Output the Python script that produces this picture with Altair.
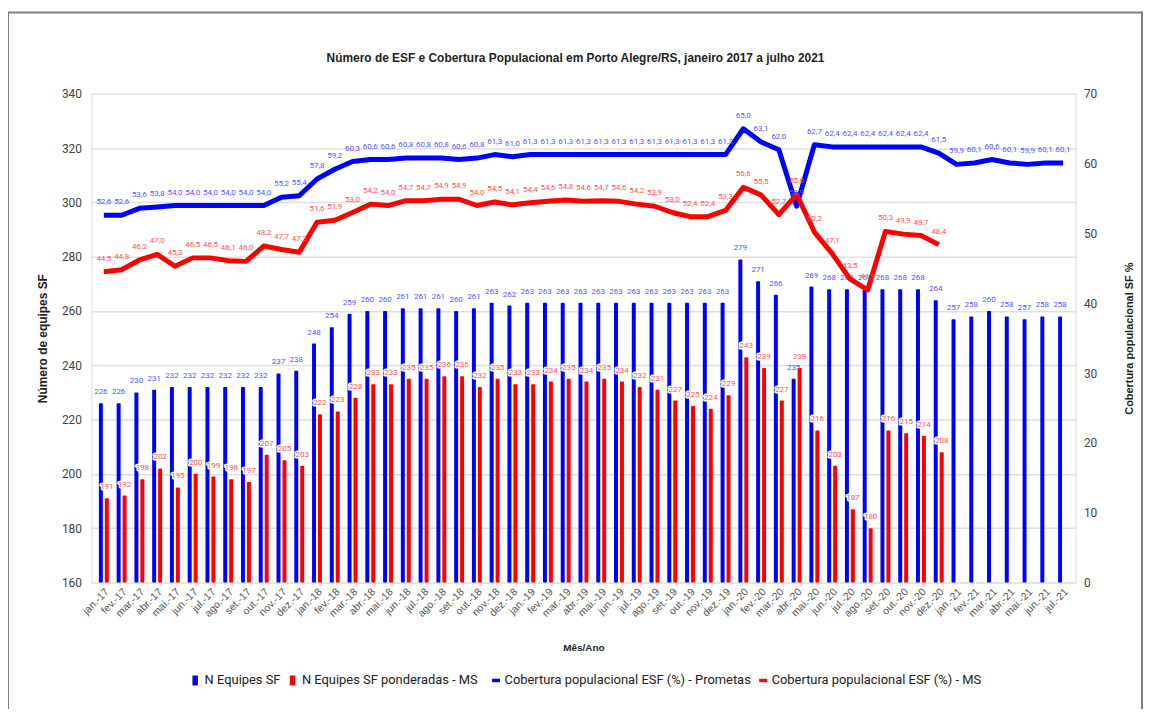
import altair as alt
import pandas as pd

meses = [
    "jan.-17", "fev.-17", "mar.-17", "abr.-17", "mai.-17", "jun.-17", "jul.-17", "ago.-17", "set.-17", "out.-17", "nov.-17", "dez.-17",
    "jan.-18", "fev.-18", "mar.-18", "abr.-18", "mai.-18", "jun.-18", "jul.-18", "ago.-18", "set.-18", "out.-18", "nov.-18", "dez.-18",
    "jan.-19", "fev.-19", "mar.-19", "abr.-19", "mai.-19", "jun.-19", "jul.-19", "ago.-19", "set.-19", "out.-19", "nov.-19", "dez.-19",
    "jan.-20", "fev.-20", "mar.-20", "abr.-20", "mai.-20", "jun.-20", "jul.-20", "ago.-20", "set.-20", "out.-20", "nov.-20", "dez.-20",
    "jan.-21", "fev.-21", "mar.-21", "abr.-21", "mai.-21", "jun.-21", "jul.-21",
]

equipes_sf = [
    226, 226, 230, 231, 232, 232, 232, 232, 232, 232, 237, 238,
    248, 254, 259, 260, 260, 261, 261, 261, 260, 261, 263, 262,
    263, 263, 263, 263, 263, 263, 263, 263, 263, 263, 263, 263,
    279, 271, 266, 235, 269, 268, 268, 268, 268, 268, 268, 264,
    257, 258, 260, 258, 257, 258, 258,
]

equipes_ponderadas = [
    191, 192, 198, 202, 195, 200, 199, 198, 197, 207, 205, 203,
    222, 223, 228, 233, 233, 235, 235, 236, 236, 232, 235, 233,
    233, 234, 235, 234, 235, 234, 232, 231, 227, 225, 224, 229,
    243, 239, 227, 239, 216, 203, 187, 180, 216, 215, 214, 208,
]

cobertura_prometas = [
    52.6, 52.6, 53.6, 53.8, 54.0, 54.0, 54.0, 54.0, 54.0, 54.0, 55.2, 55.4,
    57.8, 59.2, 60.3, 60.6, 60.6, 60.8, 60.8, 60.8, 60.6, 60.8, 61.3, 61.0,
    61.3, 61.3, 61.3, 61.3, 61.3, 61.3, 61.3, 61.3, 61.3, 61.3, 61.3, 61.3,
    65.0, 63.1, 62.0, 53.9, 62.7, 62.4, 62.4, 62.4, 62.4, 62.4, 62.4, 61.5,
    59.9, 60.1, 60.6, 60.1, 59.9, 60.1, 60.1,
]

cobertura_ms = [
    44.5, 44.8, 46.2, 47.0, 45.3, 46.5, 46.5, 46.1, 46.0, 48.2, 47.7, 47.3,
    51.6, 51.9, 53.0, 54.2, 54.0, 54.7, 54.7, 54.9, 54.9, 54.0, 54.5, 54.1,
    54.4, 54.6, 54.8, 54.6, 54.7, 54.6, 54.2, 53.9, 53.0, 52.4, 52.4, 53.3,
    56.6, 55.5, 52.7, 55.6, 50.2, 47.1, 43.5, 41.9, 50.3, 49.9, 49.7, 48.4,
]

S1 = "N Equipes SF"
S2 = "N Equipes SF ponderadas - MS"
S3 = "Cobertura populacional ESF (%) - Prometas"
S4 = "Cobertura populacional ESF (%) - MS"


def fmt1(v):
    return f"{v:.1f}".replace(".", ",")


bars1 = pd.DataFrame({"mes": meses, "serie": S1, "valor": equipes_sf,
                      "rotulo": [str(v) for v in equipes_sf]})
bars2 = pd.DataFrame({"mes": meses[:len(equipes_ponderadas)], "serie": S2,
                      "valor": equipes_ponderadas,
                      "rotulo": [str(v) for v in equipes_ponderadas]})
line1 = pd.DataFrame({"mes": meses, "serie": S3, "valor": cobertura_prometas,
                      "rotulo": [fmt1(v) for v in cobertura_prometas]})
line2 = pd.DataFrame({"mes": meses[:len(cobertura_ms)], "serie": S4,
                      "valor": cobertura_ms,
                      "rotulo": [fmt1(v) for v in cobertura_ms]})
lines = pd.concat([line1, line2], ignore_index=True)
frame_df = pd.DataFrame({"k": [0]})

W, H = 991, 492
LBL_FONT = "Roboto"
LBL_SIZE = 8

x_enc = alt.X(
    "mes:N", sort=meses, title="Mês/Ano",
    scale=alt.Scale(paddingInner=0.5, paddingOuter=0.45),
    axis=alt.Axis(labelAngle=315, labelFontSize=10.5, labelColor="#555555",
                  labelFont="Liberation Sans", labelPadding=4,
                  titleFontSize=10, titleFont="Liberation Sans", titleFontWeight="bold",
                  titleColor="#222222", titlePadding=24, domain=False, ticks=False,
                  grid=False),
)

y_left = alt.Y(
    "valor:Q",
    scale=alt.Scale(domain=[160, 340], zero=False, nice=False),
    axis=alt.Axis(values=list(range(160, 341, 20)), title="Número de equipes SF",
                  labelFontSize=12, labelColor="#444444", labelFont="Roboto",
                  labelPadding=10, titleFontSize=12, titleFont="Liberation Sans",
                  titleFontWeight="bold", titleColor="#222222", titlePadding=12,
                  domain=False, ticks=False, grid=True, gridColor="#e0e0e0",
                  gridWidth=1.5),
)

y_right = alt.Y(
    "valor:Q",
    scale=alt.Scale(domain=[0, 70], nice=False),
    axis=alt.Axis(orient="right", values=list(range(0, 71, 10)),
                  title="Cobertura populacional SF %", titleAngle=270,
                  labelFontSize=12, labelColor="#444444", labelFont="Roboto",
                  labelPadding=8, titleFontSize=11, titleFont="Liberation Sans",
                  titleFontWeight="bold", titleColor="#222222", titlePadding=38,
                  domain=False, ticks=False, grid=False),
)

fill_scale = alt.Scale(domain=[S1, S2], range=["#0000ff", "#ff0000"])
stroke_scale = alt.Scale(domain=[S3, S4], range=["#0000ff", "#ff0000"])

legend_bars = alt.Legend(
    orient="none", legendX=98, legendY=584, direction="horizontal", title=None,
    labelFontSize=13, labelFont="Roboto", labelColor="#222222", symbolSize=100,
    symbolType="M-0.55,-1H0.55V1H-0.55Z", symbolStrokeWidth=0, symbolOpacity=1,
    columnPadding=5, labelOffset=3, labelLimit=0,
)
legend_lines = alt.Legend(
    orient="none", legendX=401, legendY=584, direction="horizontal", title=None,
    labelFontSize=13, labelFont="Roboto", labelColor="#222222", symbolSize=64,
    symbolType="stroke", symbolStrokeWidth=3.5, symbolOpacity=1,
    columnPadding=0, labelOffset=2, labelLimit=0,
)

fill_enc = alt.Fill("serie:N", scale=fill_scale, legend=legend_bars)
stroke_enc = alt.Stroke("serie:N", scale=stroke_scale, legend=legend_lines)

frame = alt.Chart(frame_df).mark_rect(fill=None, stroke="#7f7f7f", strokeWidth=2, clip=False).encode(
    x=alt.value(-84), x2=alt.value(1058), y=alt.value(-82), y2=alt.value(660)
)

bar_blue = alt.Chart(bars1).mark_bar(size=4, xOffset=-3, cornerRadius=1).encode(
    x=x_enc, y=y_left, y2=alt.datum(160), fill=fill_enc
)
bar_red = alt.Chart(bars2).mark_bar(size=4, xOffset=3, cornerRadius=1).encode(
    x=x_enc, y=y_left, y2=alt.datum(160), fill=fill_enc
)
txt_blue = alt.Chart(bars1).mark_text(
    dx=-3, dy=-7, baseline="bottom", fontSize=LBL_SIZE, font=LBL_FONT, color="#5555ff"
).encode(x=x_enc, y=y_left, text="rotulo:N")
txt_red_halo = alt.Chart(bars2).mark_text(
    dx=3, dy=-7, baseline="bottom", fontSize=LBL_SIZE, font=LBL_FONT, color="white",
    stroke="white", strokeWidth=3, strokeJoin="round"
).encode(x=x_enc, y=y_left, text="rotulo:N")
txt_red = alt.Chart(bars2).mark_text(
    dx=3, dy=-7, baseline="bottom", fontSize=LBL_SIZE, font=LBL_FONT, color="#ff5555"
).encode(x=x_enc, y=y_left, text="rotulo:N")

left_layer = alt.layer(frame, bar_blue, bar_red, txt_blue, txt_red_halo, txt_red)

line_marks = alt.Chart(lines).mark_line(strokeWidth=5, strokeJoin="round").encode(
    x=x_enc, y=y_right, stroke=stroke_enc
)
txt_l1 = alt.Chart(line1).mark_text(
    dy=-9, baseline="bottom", fontSize=LBL_SIZE, font=LBL_FONT, color="#5555ff"
).encode(x=x_enc, y=y_right, text="rotulo:N")
txt_l2 = alt.Chart(line2).mark_text(
    dy=-9, baseline="bottom", fontSize=LBL_SIZE, font=LBL_FONT, color="#ff5555"
).encode(x=x_enc, y=y_right, text="rotulo:N")

right_layer = alt.layer(line_marks, txt_l1, txt_l2)

chart = alt.layer(left_layer, right_layer).resolve_scale(y="independent").properties(
    width=W, height=H,
    padding={"left": 84, "top": 84, "right": 70, "bottom": 125},
    autosize=alt.AutoSizeParams(type="none"),
    title=alt.TitleParams(
        "Número de ESF e Cobertura Populacional em Porto Alegre/RS, janeiro 2017 a julho 2021",
        fontSize=12, font="Liberation Sans", fontWeight="bold", color="#222222",
        anchor="middle", offset=-54, dx=-8,
    ),
).configure_view(stroke=None).configure(background="white")

chart.save("out.html", embed_options={"renderer": "svg", "actions": False})
